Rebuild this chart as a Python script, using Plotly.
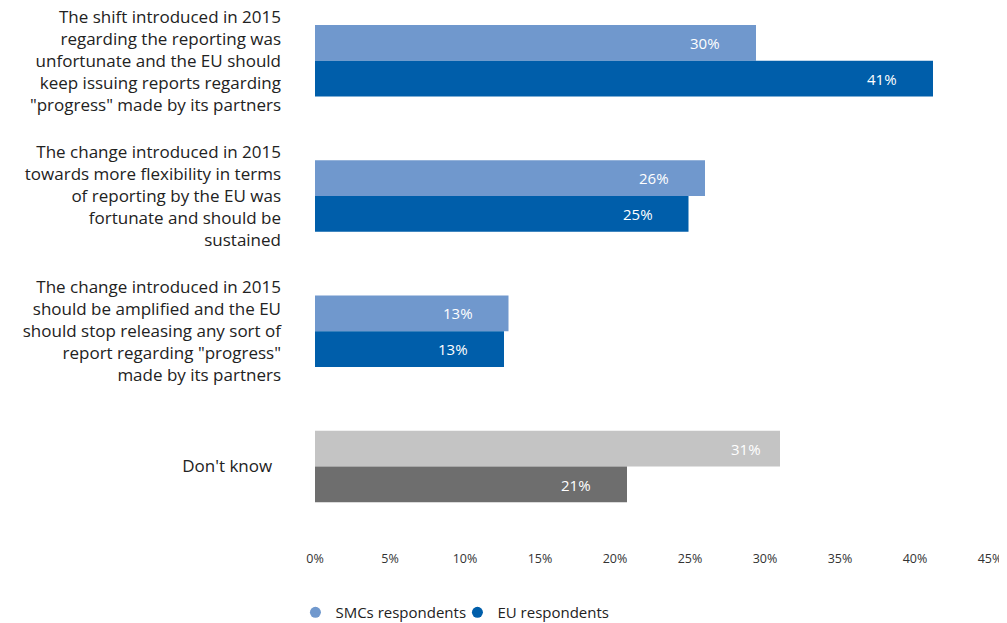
import plotly.graph_objects as go

categories = [
    "The shift introduced in 2015<br>regarding the reporting was<br>unfortunate and the EU should<br>keep issuing reports regarding<br>\"progress\" made by its partners",
    "The change introduced in 2015<br>towards more flexibility in terms<br>of reporting by the EU was<br>fortunate and should be<br>sustained",
    "The change introduced in 2015<br>should be amplified and the EU<br>should stop releasing any sort of<br>report regarding \"progress\"<br>made by its partners",
    "Don't know\u00a0\u00a0",
]
smc_values = [29.4, 26.0, 12.9, 31.0]
eu_values = [41.2, 24.9, 12.6, 20.8]
smc_labels = ["30%", "26%", "13%", "31%"]
eu_labels = ["41%", "25%", "13%", "21%"]
x_ticks = [0, 5, 10, 15, 20, 25, 30, 35, 40, 45]

SMC_BLUE = "#7098cd"
EU_BLUE = "#005eaa"
LIGHT_GREY = "#c4c4c4"
DARK_GREY = "#6e6e6e"
FONT = "Open Sans"

smc_colors = [SMC_BLUE] * 3 + [LIGHT_GREY]
eu_colors = [EU_BLUE] * 3 + [DARK_GREY]

fig = go.Figure()
fig.add_trace(
    go.Bar(
        y=categories,
        x=smc_values,
        orientation="h",
        marker={"color": smc_colors, "line": {"width": 0}},
        showlegend=False,
        hoverinfo="skip",
    )
)
fig.add_trace(
    go.Bar(
        y=categories,
        x=eu_values,
        orientation="h",
        marker={"color": eu_colors, "line": {"width": 0}},
        showlegend=False,
        hoverinfo="skip",
    )
)

# value labels sit inside the bars, a bit in from the end
for i, cat in enumerate(categories):
    for vals, labels, shift in ((smc_values, smc_labels, 18), (eu_values, eu_labels, -18)):
        fig.add_annotation(
            x=vals[i],
            y=cat,
            yshift=shift,
            text=labels[i],
            showarrow=False,
            xanchor="right",
            xshift=-34 if not (i == 3 and vals is smc_values) else -17,
            font={"family": FONT, "size": 15, "color": "white"},
        )

# legend entries with round markers
for name, color in (("SMCs respondents", SMC_BLUE), ("EU respondents", EU_BLUE)):
    fig.add_trace(
        go.Scatter(
            x=[None],
            y=[None],
            mode="markers",
            name=name,
            marker={"symbol": "circle", "size": 11, "color": color},
        )
    )

# page body has an 8px margin, so the figure is a bit smaller than the window
fig.update_layout(
    width=999,
    height=615,
    barmode="group",
    bargap=0.47,
    bargroupgap=0,
    plot_bgcolor="white",
    paper_bgcolor="white",
    margin={"l": 307, "r": 17, "t": 0, "b": 74, "autoexpand": False},
    font={"family": FONT, "color": "#222222"},
    legend={
        "orientation": "h",
        "x": -0.029,
        "xanchor": "left",
        "y": -0.087,
        "yanchor": "top",
        "font": {"size": 15, "color": "#222222"},
        "entrywidth": 117,
        "tracegroupgap": 0,
    },
)
fig.update_xaxes(
    range=[0, 45],
    tickvals=x_ticks,
    ticktext=[f"{v}%" for v in x_ticks],
    showgrid=False,
    zeroline=False,
    showline=False,
    automargin=False,
    ticklabelstandoff=0,
    tickfont={"size": 12.5, "color": "#333333"},
)
fig.update_yaxes(
    autorange=False,
    range=[3.61, -0.39],
    categoryorder="array",
    categoryarray=categories,
    showgrid=False,
    showline=False,
    automargin=False,
    ticklabelstandoff=33,
    tickfont={"size": 17, "color": "#222222"},
)

fig.write_html("out.html")
